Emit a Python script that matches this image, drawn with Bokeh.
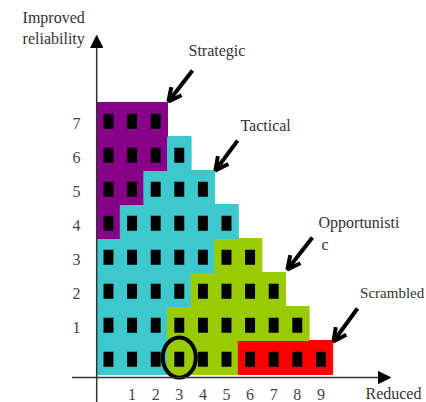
from bokeh.plotting import figure
from bokeh.models import Range1d, Arrow, OpenHead, NormalHead
from bokeh.core.properties import value
from bokeh.embed import file_html
from bokeh.resources import INLINE

# ---- data ----
rows = [0, 1, 2, 3, 4, 5, 6, 7]
purple_counts = [0, 0, 0, 0, 1, 2, 3, 3]   # Strategic
cyan_counts = [3, 3, 4, 5, 5, 3, 1, 0]     # Tactical
green_counts = [3, 6, 4, 2, 0, 0, 0, 0]    # Opportunistic
red_counts = [4, 0, 0, 0, 0, 0, 0, 0]      # Scrambled
region_colors = ["#880088", "#3cc8cc", "#99cc00", "#ff0000"]
x_tick_labels = ["1", "2", "3", "4", "5", "6", "7", "8", "9"]
y_tick_labels = ["1", "2", "3", "4", "5", "6", "7"]
circled_cell = (3, 0)

FONT = value("Liberation Serif")

p = figure(width=426, height=402,
           x_range=Range1d(-4.576, 13.475), y_range=Range1d(-1.324, 10.5),
           output_backend="svg", toolbar_location=None,
           x_axis_type=None, y_axis_type=None, min_border=0,
           outline_line_color=None, background_fill_color="white")
p.grid.visible = False

# ---- coloured staircase regions ----
left, right, bottom, top, colors = [], [], [], [], []
for i, r in enumerate(rows):
    start = -0.5
    for cnt, col in zip([purple_counts[i], cyan_counts[i], green_counts[i], red_counts[i]], region_colors):
        if cnt > 0:
            left.append(start)
            right.append(start + cnt)
            bottom.append(r - 0.5)
            top.append(r + 0.5)
            colors.append(col)
            start += cnt
p.quad(left=left, right=right, bottom=bottom, top=top,
       fill_color=colors, line_color=colors, line_width=1)

# ---- black window squares ----
sx, sy = [], []
for i, r in enumerate(rows):
    total = purple_counts[i] + cyan_counts[i] + green_counts[i] + red_counts[i]
    for c in range(total):
        sx.append(c)
        sy.append(r - 0.05)
p.rect(x=sx, y=sy, width=0.42, height=0.44, fill_color="black", line_color=None)

# ---- circled cell ----
p.ellipse(x=[circled_cell[0]], y=[circled_cell[1]], width=1.4, height=1.18,
          fill_color=None, line_color="black", line_width=4)

# ---- axes with arrowheads ----
p.add_layout(Arrow(end=NormalHead(size=12, fill_color="black", line_color="black"),
                   x_start=-0.5, y_start=-1.5, x_end=-0.5, y_end=9.47,
                   line_color="#333333", line_width=1.5))
p.add_layout(Arrow(end=NormalHead(size=12, fill_color="black", line_color="black"),
                   x_start=-1.55, y_start=-0.59, x_end=11.95, y_end=-0.59,
                   line_color="#333333", line_width=1.5))

# ---- pointing arrows ----
arrows = [((3.56, 8.44), (2.54, 7.53)),
          ((5.47, 6.38), (4.53, 5.50)),
          ((8.64, 3.53), (7.58, 2.59)),
          ((10.55, 1.44), (9.53, 0.47))]
for (x0, y0), (x1, y1) in arrows:
    p.add_layout(Arrow(end=OpenHead(size=13, line_width=4, line_color="black"),
                       x_start=x0, y_start=y0, x_end=x1, y_end=y1,
                       line_color="black", line_width=4))

# ---- texts ----
p.text(x=[3.39, 5.59, 8.9, 9.03, -3.64, -3.64],
       y=[9.03, 6.82, 3.97, 3.32, 10.0, 9.38],
       text=["Strategic", "Tactical", "Opportunisti", "c", "Improved", "reliability"],
       text_font=FONT, text_font_size="16px", text_color="#333333",
       text_align="left", text_baseline="middle")

p.text(x=[10.66], y=[1.91], text=["Scrambled"],
       text_font=FONT, text_font_size="15px", text_color="#333333",
       text_align="left", text_baseline="middle")

p.text(x=[-1.36] * len(y_tick_labels), y=[int(t) - 0.12 for t in y_tick_labels],
       text=y_tick_labels, text_font=FONT, text_font_size="16px", text_color="#444444",
       text_align="center", text_baseline="middle")

p.text(x=[int(t) for t in x_tick_labels], y=[-1.09] * len(x_tick_labels),
       text=x_tick_labels, text_font=FONT, text_font_size="16px", text_color="#444444",
       text_align="center", text_baseline="middle")

p.text(x=[10.89], y=[-1.06], text=["Reduced"], text_font=FONT, text_font_size="16px",
       text_color="#333333", text_align="left", text_baseline="middle")

open("out.html", "w").write(file_html(p, INLINE))
